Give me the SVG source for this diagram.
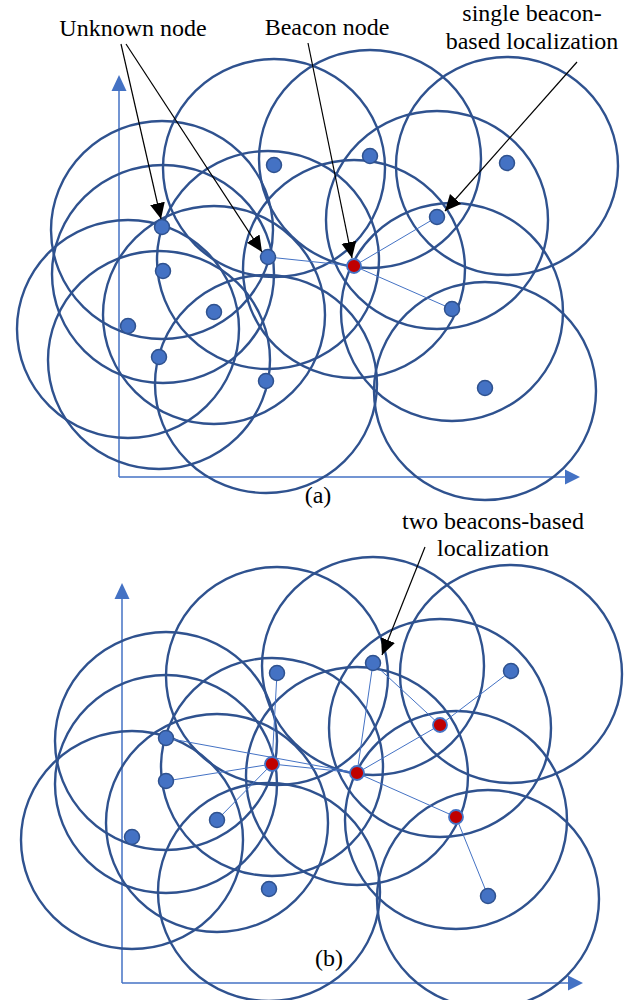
<svg xmlns="http://www.w3.org/2000/svg" width="625" height="1000" viewBox="0 0 625 1000">
<style>
.rng{fill:none;stroke:#2F528F;stroke-width:2.4}
.un{fill:#4472C4;stroke:#2F528F;stroke-width:1.5}
.bc{fill:#C00000;stroke:#4472C4;stroke-width:1.8}
.lk{stroke:#4472C4;stroke-width:1;fill:none}
.ax{stroke:#4472C4;stroke-width:1.5;fill:none}
.axh{fill:#4472C4}
.ar{stroke:#000;stroke-width:1.2;fill:none;marker-end:url(#ah)}
text{font-family:"Liberation Serif","Times New Roman",serif;font-size:24px;fill:#000;text-anchor:middle}
</style>
<defs>
<marker id="ah" markerUnits="userSpaceOnUse" markerWidth="17" markerHeight="16" refX="16" refY="7.5" orient="auto">
<path d="M0,0 L16,7.5 L0,15 z" fill="#000"/>
</marker>
</defs>
<rect width="625" height="1000" fill="#fff"/>

<!-- Panel (a) axes -->
<g id="axes-a">
<line class="ax" x1="119" y1="477" x2="119" y2="90"/>
<polygon class="axh" points="111.5,91 119,75 126.5,91"/>
<line class="ax" x1="119" y1="477" x2="566" y2="477"/>
<polygon class="axh" points="565,469.5 580,477 565,484.5"/>
</g>

<!-- Panel (a) ranges -->
<g id="ranges-a">
<ellipse class="rng" cx="162" cy="230" rx="111" ry="109"/>
<ellipse class="rng" cx="163" cy="274" rx="111" ry="109"/>
<ellipse class="rng" cx="128" cy="329" rx="111" ry="109"/>
<ellipse class="rng" cx="214" cy="315" rx="111" ry="109"/>
<ellipse class="rng" cx="159" cy="360" rx="111" ry="109"/>
<ellipse class="rng" cx="266" cy="384" rx="111" ry="109"/>
<ellipse class="rng" cx="268" cy="260" rx="111" ry="109"/>
<ellipse class="rng" cx="274" cy="168" rx="111" ry="109"/>
<ellipse class="rng" cx="370" cy="159" rx="111" ry="109"/>
<ellipse class="rng" cx="354" cy="269" rx="111" ry="109"/>
<ellipse class="rng" cx="437" cy="220" rx="111" ry="109"/>
<ellipse class="rng" cx="507" cy="166" rx="111" ry="109"/>
<ellipse class="rng" cx="452" cy="312" rx="111" ry="109"/>
<ellipse class="rng" cx="485" cy="391" rx="111" ry="109"/>
</g>

<!-- Panel (b) axes -->
<g id="axes-b">
<line class="ax" x1="122" y1="983" x2="122" y2="598"/>
<polygon class="axh" points="114.5,599 122,583 129.5,599"/>
<line class="ax" x1="122" y1="983" x2="569" y2="983"/>
<polygon class="axh" points="568,975.5 583,983 568,990.5"/>
</g>

<!-- Panel (b) ranges -->
<g id="ranges-b">
<ellipse class="rng" cx="277" cy="676" rx="111" ry="109"/>
<ellipse class="rng" cx="166" cy="741" rx="111" ry="109"/>
<ellipse class="rng" cx="166" cy="784" rx="111" ry="109"/>
<ellipse class="rng" cx="132" cy="840" rx="111" ry="109"/>
<ellipse class="rng" cx="217" cy="823" rx="111" ry="109"/>
<ellipse class="rng" cx="269" cy="892" rx="111" ry="109"/>
<ellipse class="rng" cx="373" cy="666" rx="111" ry="109"/>
<ellipse class="rng" cx="511" cy="674" rx="111" ry="109"/>
<ellipse class="rng" cx="488" cy="899" rx="111" ry="109"/>
<ellipse class="rng" cx="272" cy="767" rx="111" ry="109"/>
<ellipse class="rng" cx="357" cy="776" rx="111" ry="109"/>
<ellipse class="rng" cx="440" cy="728" rx="111" ry="109"/>
<ellipse class="rng" cx="456" cy="820" rx="111" ry="109"/>
</g>

<!-- Connectors -->
<g id="connectors">
<line class="lk" x1="354" y1="266" x2="268" y2="257"/>
<line class="lk" x1="354" y1="266" x2="437" y2="217"/>
<line class="lk" x1="354" y1="266" x2="452" y2="309"/>

<line class="lk" x1="272" y1="764" x2="277" y2="673"/>
<line class="lk" x1="272" y1="764" x2="166" y2="781"/>
<line class="lk" x1="272" y1="764" x2="217" y2="820"/>
<line class="lk" x1="272" y1="764" x2="357" y2="773"/>
<line class="lk" x1="166" y1="738" x2="357" y2="773"/>
<line class="lk" x1="357" y1="773" x2="373" y2="663"/>
<line class="lk" x1="357" y1="773" x2="440" y2="725"/>
<line class="lk" x1="357" y1="773" x2="456" y2="817"/>
<line class="lk" x1="440" y1="725" x2="373" y2="663"/>
<line class="lk" x1="440" y1="725" x2="511" y2="671"/>
<line class="lk" x1="456" y1="817" x2="488" y2="896"/>
</g>

<!-- Panel (a) nodes -->
<g id="a-n1"><circle class="un" cx="162" cy="227" r="7.5"/></g>
<g id="a-n2"><circle class="un" cx="163" cy="271" r="7.5"/></g>
<g id="a-n3"><circle class="un" cx="128" cy="326" r="7.5"/></g>
<g id="a-n4"><circle class="un" cx="214" cy="312" r="7.5"/></g>
<g id="a-n5"><circle class="un" cx="159" cy="357" r="7.5"/></g>
<g id="a-n6"><circle class="un" cx="266" cy="381" r="7.5"/></g>
<g id="a-n7"><circle class="un" cx="268" cy="257" r="7.5"/></g>
<g id="a-n8"><circle class="un" cx="274" cy="165" r="7.5"/></g>
<g id="a-n9"><circle class="un" cx="370" cy="156" r="7.5"/></g>
<g id="a-n11"><circle class="un" cx="437" cy="217" r="7.5"/></g>
<g id="a-n12"><circle class="un" cx="507" cy="163" r="7.5"/></g>
<g id="a-n13"><circle class="un" cx="452" cy="309" r="7.5"/></g>
<g id="a-n14"><circle class="un" cx="485" cy="388" r="7.5"/></g>
<g id="a-beacon"><circle class="bc" cx="354" cy="266" r="7"/></g>

<!-- Panel (b) nodes -->
<g id="b-n1"><circle class="un" cx="166" cy="738" r="7.5"/></g>
<g id="b-n2"><circle class="un" cx="166" cy="781" r="7.5"/></g>
<g id="b-n3"><circle class="un" cx="132" cy="837" r="7.5"/></g>
<g id="b-n4"><circle class="un" cx="217" cy="820" r="7.5"/></g>
<g id="b-n6"><circle class="un" cx="269" cy="889" r="7.5"/></g>
<g id="b-n8"><circle class="un" cx="277" cy="673" r="7.5"/></g>
<g id="b-n9"><circle class="un" cx="373" cy="663" r="7.5"/></g>
<g id="b-n12"><circle class="un" cx="511" cy="671" r="7.5"/></g>
<g id="b-n14"><circle class="un" cx="488" cy="896" r="7.5"/></g>
<g id="b-beacon1"><circle class="bc" cx="272" cy="764" r="7"/></g>
<g id="b-beacon2"><circle class="bc" cx="357" cy="773" r="7"/></g>
<g id="b-beacon3"><circle class="bc" cx="440" cy="725" r="7"/></g>
<g id="b-beacon4"><circle class="bc" cx="456" cy="817" r="7"/></g>

<!-- Annotation arrows -->
<g id="annotations">
<line class="ar" x1="121" y1="44" x2="161" y2="219"/>
<line class="ar" x1="126" y1="44" x2="262" y2="252"/>
<line class="ar" x1="308" y1="43" x2="352" y2="258"/>
<line class="ar" x1="577" y1="62" x2="445" y2="211"/>
<line class="ar" x1="425" y1="547" x2="382" y2="655"/>
</g>

<!-- Labels -->
<g id="labels">
<text x="133" y="36">Unknown node</text>
<text x="327" y="35">Beacon node</text>
<text x="532" y="21">single beacon-</text>
<text x="532" y="49">based localization</text>
<text x="493" y="529">two beacons-based</text>
<text x="493" y="556">localization</text>
<text x="318" y="503">(a)</text>
<text x="329" y="966">(b)</text>
</g>
</svg>
